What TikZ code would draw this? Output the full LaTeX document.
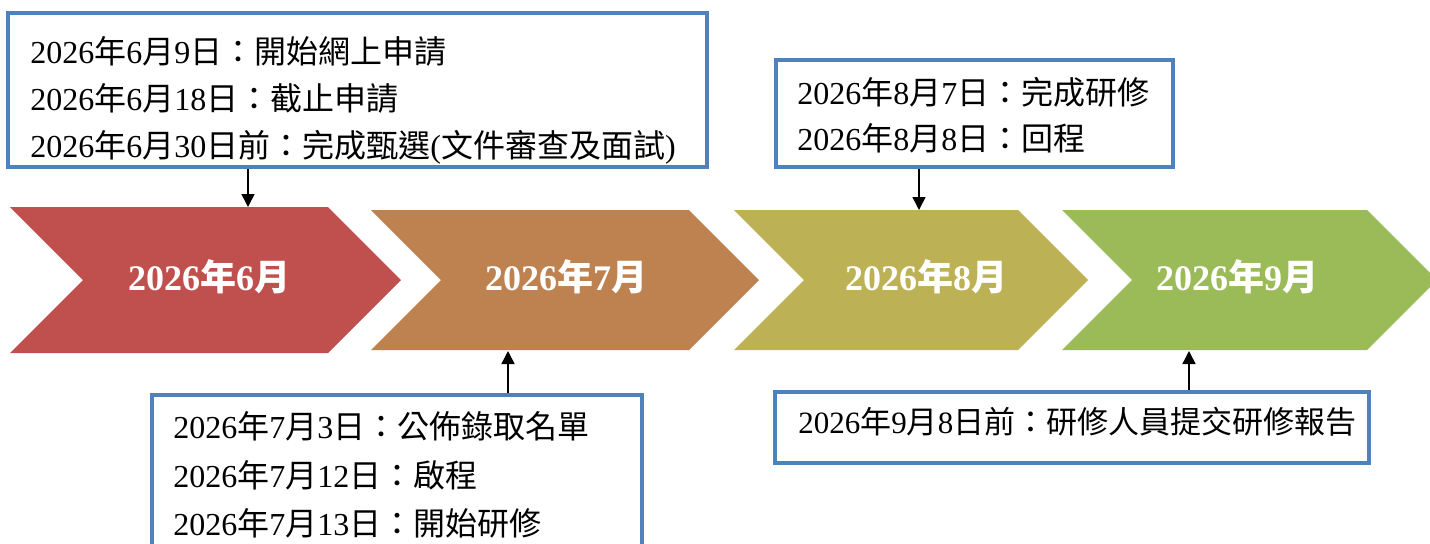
\documentclass[tikz,border=0pt]{standalone}
\usepackage{fontspec}
\setmainfont{Liberation Serif}
\newfontfamily\cjk{Noto Sans CJK TC}
\usetikzlibrary{arrows.meta}
\definecolor{cA}{RGB}{192,80,77}
\definecolor{cB}{RGB}{189,130,80}
\definecolor{cC}{RGB}{189,177,86}
\definecolor{cD}{RGB}{155,187,89}
\definecolor{bx}{RGB}{79,129,189}
\newcommand\zh[1]{{\cjk #1}}
\tikzset{
  mon/.style={text=white,inner sep=0pt,anchor=base,font=\fontsize{18}{20}\selectfont\bfseries},
  box/.style={draw=bx,line width=2pt,fill=white,inner sep=0pt},
  line/.style={inner sep=0pt,anchor=base west,font=\fontsize{16}{20}\selectfont},
  arr/.style={line width=0.75pt,-{Triangle[length=6.5pt,width=6.5pt]}}
}
\begin{document}
\begin{tikzpicture}[x=0.5pt,y=-0.5pt]
\useasboundingbox (0,0) rectangle (1430,543);
\clip (0,0) rectangle (1430,543);
% chevrons
\fill[cA] (10,207) -- (328,207) -- (401,280) -- (328,353) -- (10,353) -- (83,280) -- cycle;
\fill[cB] (371,210) -- (689,210) -- (759,280) -- (689,350) -- (371,350) -- (441,280) -- cycle;
\fill[cC] (734,210) -- (1018,210) -- (1088,280) -- (1018,350) -- (734,350) -- (804,280) -- cycle;
\fill[cD] (1062,210) -- (1367,210) -- (1437,280) -- (1367,350) -- (1062,350) -- (1132,280) -- cycle;
\node[mon] (m6) at (209,290) {2026\zh{年}6\zh{月}};
\node[mon] (m7) at (566,290) {2026\zh{年}7\zh{月}};
\node[mon] (m8) at (926,290) {2026\zh{年}8\zh{月}};
\node[mon] (m9) at (1237,290) {2026\zh{年}9\zh{月}};
\coordinate (t6) at (248,207);
\coordinate (b7) at (508,351);
\coordinate (t8) at (919,210);
\coordinate (b9) at (1189,351);
% boxes
\node[box,minimum width=349.5pt,minimum height=77pt] (bx1) at (357.5,90) {};
\node[box,minimum width=198.5pt,minimum height=53.5pt] (bx2) at (974.5,113.5) {};
\node[box,minimum width=245pt,minimum height=102.5pt] (bx3) at (397,497.5) {};
\node[box,minimum width=297pt,minimum height=35.5pt] (bx4) at (1072,427.5) {};
% texts
\node[line] (l11) at (30,63) {2026\zh{年}6\zh{月}9\zh{日：開始網上申請}};
\node[line] (l12) at (30,110) {2026\zh{年}6\zh{月}18\zh{日：截止申請}};
\node[line] (l13) at (30,157) {2026\zh{年}6\zh{月}30\zh{日前：完成甄選}(\zh{文件審查及面試})};
\node[line] (l21) at (797,104) {2026\zh{年}8\zh{月}7\zh{日：完成研修}};
\node[line] (l22) at (797,150) {2026\zh{年}8\zh{月}8\zh{日：回程}};
\node[line] (l31) at (173,438) {2026\zh{年}7\zh{月}3\zh{日：公佈錄取名單}};
\node[line] (l32) at (173,487) {2026\zh{年}7\zh{月}12\zh{日：啟程}};
\node[line] (l33) at (173,535) {2026\zh{年}7\zh{月}13\zh{日：開始研修}};
\node[line,font=\fontsize{15.5}{20}\selectfont] (l41) at (798,433) {2026\zh{年}9\zh{月}8\zh{日前：研修人員提交研修報告}};
% connectors
\draw[arr] (bx1.south -| t6) -- (t6);
\draw[arr] (bx2.south -| t8) -- (t8);
\draw[arr] (bx3.north -| b7) -- (b7);
\draw[arr] (bx4.north -| b9) -- (b9);
\end{tikzpicture}
\end{document}
